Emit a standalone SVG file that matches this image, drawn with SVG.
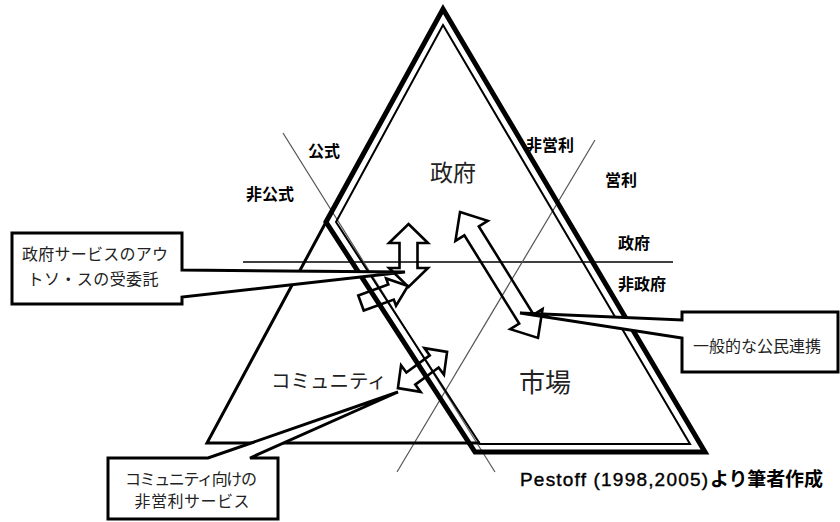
<svg xmlns="http://www.w3.org/2000/svg" width="840" height="522" viewBox="0 0 840 522">
<style>
.thick{fill:none;stroke:#000;stroke-width:5;stroke-linejoin:miter}
.thin{fill:none;stroke:#000;stroke-width:2}
.tri{fill:none;stroke:#000;stroke-width:3}
.grey{fill:none;stroke:#555;stroke-width:1.2}
.hline{fill:none;stroke:#000;stroke-width:1.5}
.arrow{fill:none;stroke:#000;stroke-width:2.6;stroke-linejoin:miter}
.box{fill:#fff;stroke:#000;stroke-width:3;stroke-linejoin:miter}
.lab{font-family:"Noto Sans CJK JP","Liberation Sans",sans-serif;font-weight:bold;font-size:16px;fill:#000}
.big{font-family:"Noto Sans CJK JP","Liberation Sans",sans-serif;fill:#222}
.bt{font-family:"Noto Sans CJK JP","Liberation Sans",sans-serif;font-size:16px;fill:#222}
</style>
<rect width="840" height="522" fill="#fff"/>
<g id="connectors">
  <line class="hline" x1="243" y1="262" x2="673" y2="262"/>
  <line class="grey" x1="283" y1="133" x2="495" y2="472"/>
  <line class="grey" x1="595" y1="140" x2="397" y2="472"/>
</g>
<g id="triangle-community">
  <polyline class="tri" points="326,222 207,443 480,443"/>
</g>
<g id="shape-state-market">
  <path class="thick" d="M443,9 L705,452 L475,452 L326,222 Z"/>
  <path class="thin" d="M443,25 L690,444 L480,444 L336,222 Z"/>
</g>
<g id="arrows">
  <polygon id="arrow-vertical" class="arrow" transform="translate(408.5,255.5) rotate(90)" points="-31.5,0 -12.5,-19.5 -12.5,-9 12.5,-9 12.5,-19.5 31.5,0 12.5,19.5 12.5,9 -12.5,9 -12.5,19.5"/>
  <polygon id="arrow-diagonal" class="arrow" transform="translate(499,275) rotate(58.2)" points="-74,0 -52,-19 -52,-8.5 52,-8.5 52,-19 74,0 52,19 52,8.5 -52,8.5 -52,19"/>
  <polygon id="arrow-outsource" class="arrow" transform="translate(361,303) rotate(-20)" points="0,-8 32,-8 32,-14.5 50,0 32,14.5 32,8 0,8"/>
  <polygon id="arrow-community" class="arrow" transform="translate(422.5,370) rotate(-36.3)" points="-30.5,0 -14.5,-16.5 -14.5,-7.5 14.5,-7.5 14.5,-16.5 30.5,0 14.5,16.5 14.5,7.5 -14.5,7.5 -14.5,16.5"/>
</g>
<g id="labels">
  <text class="big" x="430" y="181" font-size="23">政府</text>
  <text class="big" x="519" y="392" font-size="26">市場</text>
  <text class="big" x="271" y="388" font-size="19.5">コミュニティ</text>
  <text class="lab" x="308" y="157">公式</text>
  <text class="lab" x="246" y="200">非公式</text>
  <text class="lab" x="526" y="151" font-size="17">非営利</text>
  <text class="lab" x="605" y="186">営利</text>
  <text class="lab" x="618" y="249" font-size="17">政府</text>
  <text class="lab" x="618" y="290" font-size="17">非政府</text>
</g>
<g id="callout-outsourcing">
  <path class="box" d="M12,233 H182 V270 L405,272 L182,297 V304 H12 Z"/>
  <text class="bt" x="95" y="260" text-anchor="middle" textLength="146">政府サービスのアウ</text>
  <text class="bt" x="93" y="285" text-anchor="middle" textLength="131">トソ・スの受委託</text>
</g>
<g id="callout-ppp">
  <path class="box" d="M682,312 H838 V372 H682 V338 L520,313 L682,320 Z"/>
  <text class="bt" x="693" y="352" font-size="17">一般的な公民連携</text>
</g>
<g id="callout-community">
  <path class="box" d="M108,458 H208 L398,392 L250,458 H278 V519 H108 Z"/>
  <text class="bt" x="191" y="485" font-size="14" text-anchor="middle" textLength="132">コミュニティ向けの</text>
  <text class="bt" x="192" y="507" font-size="14" text-anchor="middle" textLength="115">非営利サービス</text>
</g>
<g id="source">
  <text x="520" y="486" font-family="Liberation Sans,sans-serif" font-size="19" fill="#000" stroke="#000" stroke-width="0.4" textLength="188">Pestoff (1998,2005)</text>
  <text x="710" y="486" font-family="Noto Sans CJK JP,sans-serif" font-size="19" font-weight="bold" fill="#000" textLength="113">より筆者作成</text>
</g>
</svg>
